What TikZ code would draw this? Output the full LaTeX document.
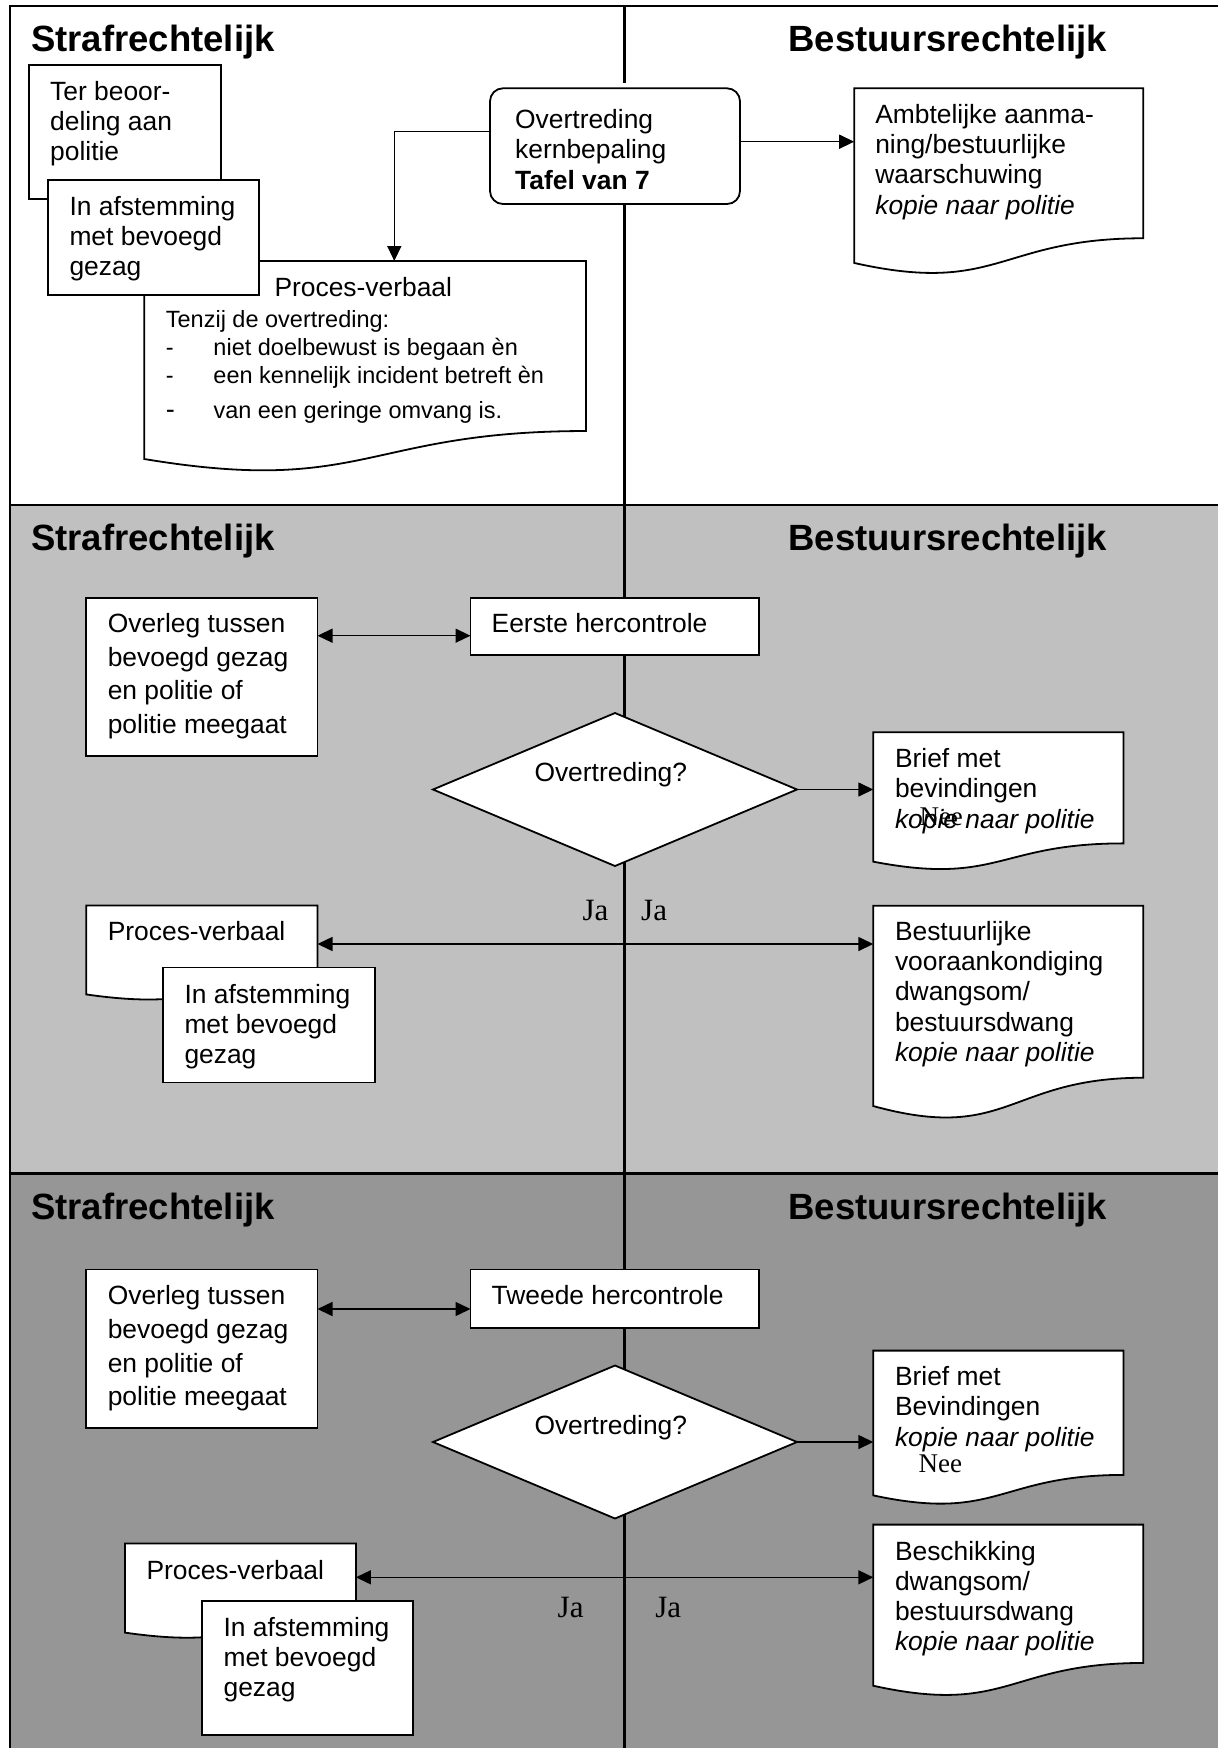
\documentclass[tikz,border=0pt]{standalone}
\usepackage{fontspec}
\setmainfont{Liberation Sans}
\newfontfamily\labelserif{Liberation Serif}
\usetikzlibrary{arrows.meta,shapes.geometric,fit}
\definecolor{bandmid}{HTML}{C0C0C0}
\definecolor{banddark}{HTML}{969696}
% left-aligned block of lines whose baseline is the first line
\newcommand\txtlines[1]{\begin{tabular}[t]{@{}l@{}}#1\end{tabular}}
% flowchart "document" symbol: name, x0, y0, x1, height
\newcommand\docshape[5]{%
  \filldraw[shapeline] (#2,#3) -- (#4,#3) -- (#4,{#3+0.802*#5})
    .. controls ({(#2+#4)/2},{#3+0.802*#5}) and ({(#2+#4)/2},{#3+1.1075*#5}) .. (#2,{#3+0.934*#5}) -- cycle;
  \node[fit={(#2,#3) (#4,{#3+#5})}, inner sep=0pt, outer sep=0pt] (#1) {};}
\begin{document}
\begin{tikzpicture}[x=1pt, y=-1pt,
  shapeline/.style={draw, fill=white, line width=1.8pt},
  box/.style={draw, fill=white, line width=1.8pt, rectangle, inner sep=0pt, outer sep=0pt},
  decision/.style={draw, fill=white, line width=1.8pt, diamond, inner sep=0pt, outer sep=0pt,
    minimum width=364pt, minimum height=153pt},
  body/.style={anchor=base west, inner sep=0pt, font=\fontsize{26.4}{30.3}\selectfont},
  bodywide/.style={body, font=\fontsize{26.4}{33.8}\selectfont},
  small/.style={anchor=base west, inner sep=0pt, font=\fontsize{23.5}{27.7}\selectfont},
  title/.style={anchor=base west, inner sep=0pt, font=\fontsize{36.5}{40}\selectfont\bfseries},
  lab/.style={anchor=base west, inner sep=0pt, font=\labelserif\fontsize{31}{34}\selectfont},
  labsmall/.style={anchor=base west, inner sep=0pt, font=\labelserif\fontsize{27}{30}\selectfont},
  arr/.style={line width=1.5pt, -{Triangle[length=15pt,width=14pt]}},
  dbl/.style={line width=1.5pt, {Triangle[length=15pt,width=14pt]}-{Triangle[length=15pt,width=14pt]}}
]
\useasboundingbox (0,0) rectangle (1218,1748);
% background bands
\fill[white] (0,0) rectangle (1218,1748);
\fill[bandmid] (10,505) rectangle (1218,1173.7);
\fill[banddark] (10,1173.7) rectangle (1218,1748);
% frame and band separators
\draw[line width=2.2pt] (1218,6) -- (10,6) -- (10,1748);
\draw[line width=2.7pt] (10,505) -- (1218,505);
\draw[line width=2.7pt] (10,1173.7) -- (1218,1173.7);
% dividing line between the two columns
\draw[line width=3.6pt] (624.5,6) -- (624.5,82.7);
\draw[line width=3.6pt] (624.5,199) -- (624.5,1748);

% ---------------- band 1 ----------------
\node[title] (h1l) at (31,51.5) {Strafrechtelijk};
\node[title] (h1r) at (788.3,51.5) {Bestuursrechtelijk};

\node[box, fit={(29.3,65) (221,199)}] (ter) {};
\docshape{pv1}{144.3}{261}{586}{212}
\node[box, fit={(48.3,180) (259.3,295)}] (afst1) {};
\node[box, rounded corners=13pt, fit={(490,88.3) (740,204)}] (ovt) {};
\docshape{amb}{854.2}{88.3}{1143.2}{187}

\node[body] (tert) at (50,100) {\txtlines{Ter beoor-\\deling aan\\politie}};
\node[body] (afst1t) at (69.3,215) {\txtlines{In afstemming\\met bevoegd\\gezag}};
\node[body] (pv1t) at (274.3,296.7) {Proces-verbaal};
\node[small] (pv1l) at (165.7,327.7) {\begin{tabular}[t]{@{}l@{}}Tenzij de overtreding:\\
  \makebox[47.6pt][l]{-}niet doelbewust is begaan èn\\
  \makebox[47.6pt][l]{-}een kennelijk incident betreft èn\\[7.3pt]
  \makebox[47.6pt][l]{\fontsize{27}{27}\selectfont -}van een geringe omvang is.\end{tabular}};
\node[body, font=\fontsize{26.4}{30.5}\selectfont] (ovtt) at (515,128.3)
  {\txtlines{Overtreding\\kernbepaling\\\textbf{Tafel van 7}}};
\node[body] (ambt) at (875.1,123.3)
  {\txtlines{Ambtelijke aanma-\\ning/bestuurlijke\\waarschuwing\\\textit{kopie naar politie}}};

\draw[arr] ([yshift=14.45pt]ovt.west) -| ([xshift=29.15pt]pv1.north);
\coordinate (ovtR) at ([yshift=4.45pt]ovt.east);
\draw[arr] (ovtR) -- (ovtR -| amb.west);

% ---------------- band 2 ----------------
\node[title] (h2l) at (31,550.5) {Strafrechtelijk};
\node[title] (h2r) at (788.3,550.5) {Bestuursrechtelijk};

\node[box, fit={(86.2,597.6) (317.5,755.9)}] (overleg2) {};
\node[box, fit={(470.5,597.6) (758.8,655.2)}] (eerste) {};
\node[decision] (dia2) at (615,789.5) {};
\docshape{brief2}{873.3}{732.3}{1123.4}{138.5}
\docshape{pv2}{86.2}{905.5}{317.5}{95.2}
\node[box, fit={(163.3,967.5) (374.8,1082.4)}] (afst2) {};
\docshape{best2}{873.3}{905.7}{1143.2}{214.5}

\node[bodywide] (overleg2t) at (107.6,632.3)
  {\txtlines{Overleg tussen\\bevoegd gezag\\en politie of\\politie meegaat}};
\node[body] (eerstet) at (491.5,632.3) {Eerste hercontrole};
\node[body] (dia2t) at (534.3,781.7) {Overtreding?};
\node[body] (brief2t) at (894.8,767.6)
  {\txtlines{Brief met\\bevindingen\\\textit{kopie naar politie}}};
\node[labsmall] (nee2) at (919.3,825.2) {Nee};
\node[body] (pv2t) at (107.6,940.2) {Proces-verbaal};
\node[body] (afst2t) at (184.3,1003) {\txtlines{In afstemming\\met bevoegd\\gezag}};
\node[body] (best2t) at (894.8,940.2)
  {\txtlines{Bestuurlijke\\vooraankondiging\\dwangsom/\\bestuursdwang\\\textit{kopie naar politie}}};
\node[lab] (ja2l) at (582.3,920) {Ja};
\node[lab] (ja2r) at (641,920) {Ja};

\coordinate (e2) at ([yshift=-9.3pt]eerste.west);
\draw[dbl] (e2 -| overleg2.east) -- (e2);
\draw[arr] (dia2.east) -- (dia2.east -| brief2.west);
\coordinate (j2) at ([yshift=9.1pt]pv2.east);
\draw[dbl] (j2) -- (j2 -| best2.west);

% ---------------- band 3 ----------------
\node[title] (h3l) at (31,1219.5) {Strafrechtelijk};
\node[title] (h3r) at (788.3,1219.5) {Bestuursrechtelijk};

\node[box, fit={(86.2,1269.5) (317.5,1428)}] (overleg3) {};
\node[box, fit={(470.5,1269.5) (758.8,1327.8)}] (tweede) {};
\node[decision] (dia3) at (615,1442) {};
\docshape{brief3}{873.3}{1350.6}{1123.4}{155}
\docshape{pv3}{125}{1543.4}{355.9}{95.5}
\node[box, fit={(201.7,1601.3) (413.2,1734.7)}] (afst3) {};
\docshape{besch}{873.3}{1524.6}{1143.2}{172.5}

\node[bodywide] (overleg3t) at (107.6,1304.5)
  {\txtlines{Overleg tussen\\bevoegd gezag\\en politie of\\politie meegaat}};
\node[body] (tweedet) at (491.5,1304.5) {Tweede hercontrole};
\node[body] (dia3t) at (534.3,1434.4) {Overtreding?};
\node[body] (brief3t) at (894.8,1385.6)
  {\txtlines{Brief met\\Bevindingen\\\textit{kopie naar politie}}};
\node[labsmall] (nee3) at (918.5,1472.2) {Nee};
\node[body] (pv3t) at (146.3,1579.1) {Proces-verbaal};
\node[body] (afst3t) at (223.4,1636.3) {\txtlines{In afstemming\\met bevoegd\\gezag}};
\node[body, font=\fontsize{26.4}{30}\selectfont] (bescht) at (894.8,1560)
  {\txtlines{Beschikking\\dwangsom/\\bestuursdwang\\\textit{kopie naar politie}}};
\node[lab] (ja3l) at (557.5,1617.8) {Ja};
\node[lab] (ja3r) at (655.2,1617.8) {Ja};

\coordinate (e3) at ([yshift=-10.35pt]tweede.west);
\draw[dbl] (e3 -| overleg3.east) -- (e3);
\draw[arr] (dia3.east) -- (dia3.east -| brief3.west);
\coordinate (j3) at ([yshift=13.85pt]pv3.east);
\draw[dbl] (j3) -- (j3 -| besch.west);
\end{tikzpicture}
\end{document}
